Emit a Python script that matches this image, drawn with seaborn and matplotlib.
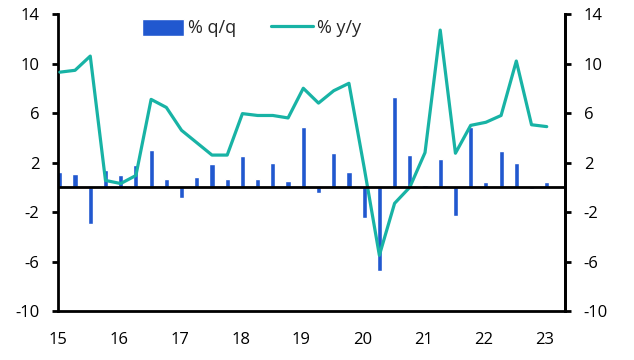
import numpy as np
import pandas as pd
import matplotlib
matplotlib.use("Agg")
import matplotlib.pyplot as plt
import seaborn as sns

# Quarterly data 2015Q1 .. 2023Q1
quarters = [f"{y}Q{q}" for y in range(2015, 2024) for q in range(1, 5)][:33]
qq = [1.2, 1.1, -3.0, 1.4, 1.0, 1.8, 3.0, 0.7, -0.9, 0.8, 1.9, 0.7,
      2.5, 0.7, 2.0, 0.5, 4.9, -0.5, 2.8, 1.2, -2.5, -6.8, 7.3, 2.6,
      0.2, 2.3, -2.3, 4.9, 0.45, 2.9, 2.0, -0.15, 0.4]
yy = [9.3, 9.45, 10.6, 0.55, 0.3, 0.95, 7.1, 6.45, 4.6, 3.6, 2.6, 2.6,
      5.95, 5.8, 5.8, 5.6, 8.0, 6.8, 7.8, 8.4, 1.6, -5.5, -1.3, 0.0,
      2.8, 12.7, 2.75, 5.0, 5.25, 5.8, 10.2, 5.05, 4.9]
yticks = [-10, -6, -2, 2, 6, 10, 14]
xticks = list(range(15, 24))

pos = [15.03 + 0.25 * i for i in range(len(quarters))]
df = pd.DataFrame({"t": pos, "qq": qq, "yy": yy})

BLUE = "#2158CF"
TEAL = "#18B3A5"

sns.set_style("white")
plt.rcParams["font.family"] = ["Open Sans", "DejaVu Sans"]

fig = plt.figure(figsize=(6.34, 3.6), dpi=100)
ax = fig.add_axes([58 / 634, 49 / 360, 507 / 634, 297 / 360])

bars = ax.bar(df["t"], df["qq"], width=0.085, color=BLUE, label="% q/q", zorder=2)
sns.lineplot(data=df, x="t", y="yy", ax=ax, color=TEAL, linewidth=2.3,
             label="% y/y", zorder=3)
ax.axhline(0, color="black", linewidth=2.0, zorder=4)

ax.set_xlim(15, 23.33)
ax.set_ylim(-10, 14)
ax.set_yticks(yticks)
ax.set_yticklabels([str(v) for v in yticks])
ax.set_xticks(xticks)
ax.set_xticklabels([str(v) for v in xticks])
ax.set_xlabel("")
ax.set_ylabel("")

ax.spines["top"].set_visible(False)
for s in ["left", "right", "bottom"]:
    ax.spines[s].set_visible(True)
    ax.spines[s].set_linewidth(2.0)
    ax.spines[s].set_color("black")

ax.tick_params(axis="both", direction="out", length=4, width=2.0,
               labelsize=12, colors="black", pad=9.5)
ax.tick_params(axis="x", pad=11)

ax2 = ax.twinx()
ax2.set_ylim(-10, 14)
ax2.set_yticks(yticks)
ax2.set_yticklabels([str(v) for v in yticks])
for s in ["top", "left", "bottom"]:
    ax2.spines[s].set_visible(False)
ax2.spines["right"].set_linewidth(2.0)
ax2.spines["right"].set_color("black")
ax2.tick_params(axis="y", direction="out", length=4, width=2.0,
                labelsize=12, colors="black", pad=9.5)
ax.grid(False)
ax2.grid(False)

handles, labels = ax.get_legend_handles_labels()
order = [labels.index("% q/q"), labels.index("% y/y")]
leg = ax.legend([handles[i] for i in order], [labels[i] for i in order],
                loc="center left", bbox_to_anchor=(84 / 507, 1 - 14 / 297),
                ncol=2, frameon=False, fontsize=13, handlelength=2.33,
                handleheight=1.1, columnspacing=1.94, handletextpad=0.22,
                borderpad=0.0, borderaxespad=0.0)

fig.savefig("out.png", dpi=100)
